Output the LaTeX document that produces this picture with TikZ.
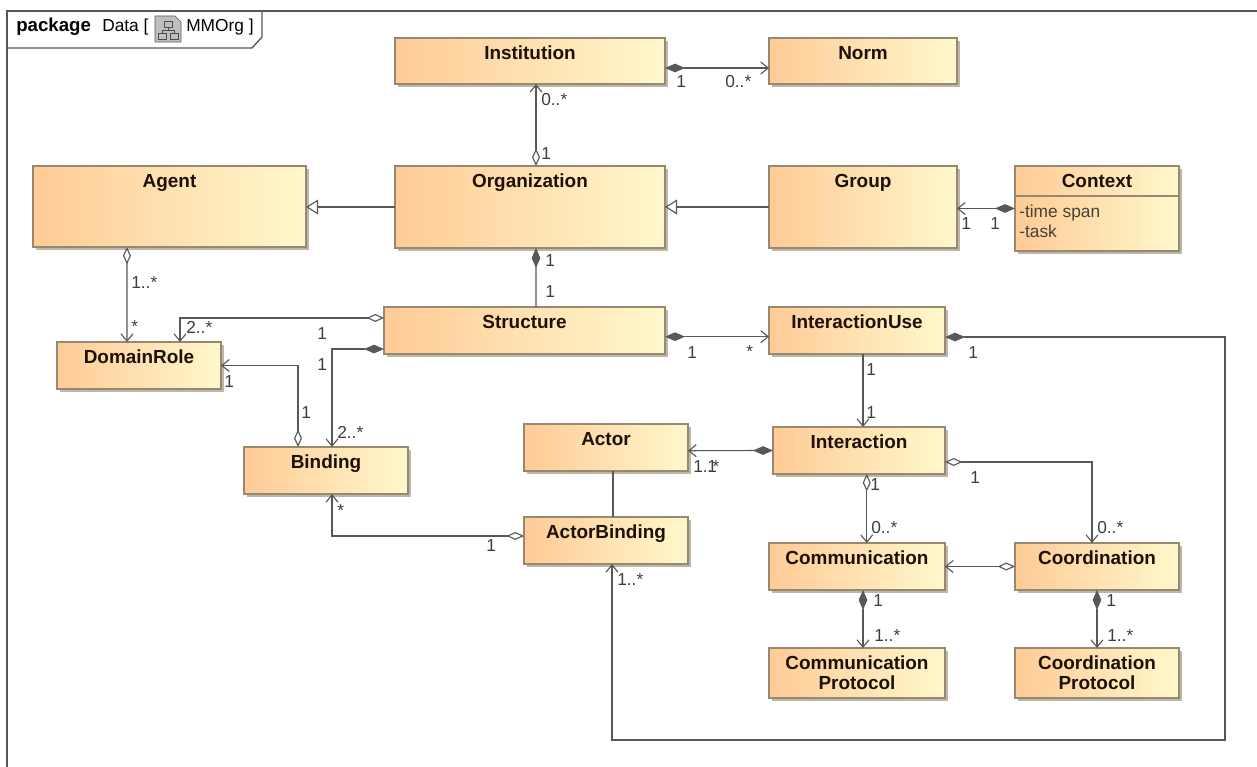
\documentclass[tikz,border=0pt]{standalone}
\usepackage{fontspec}
\setmainfont{Liberation Sans}
\usetikzlibrary{arrows.meta,
	shadows}
\definecolor{linegray}{HTML}{585858}
\definecolor{boxedge}{HTML}{978872}
\definecolor{boxleft}{HTML}{FFCB96}
\definecolor{boxright}{HTML}{FFF8CC}
\definecolor{boxshadow}{HTML}{BDB7A8}
\definecolor{inkdark}{HTML}{1C1008}

\begin{document}
\begin{tikzpicture}[x=0.75pt,y=-0.75pt]
        \useasboundingbox (0,0) rectangle (1257,767);
        \tikzstyle{shell}=[rectangle,draw=boxedge,line width=0.9pt,left color=boxleft,right color=boxright,
          general shadow={fill=boxshadow,shadow xshift=2.4pt,shadow yshift=-2.4pt},inner sep=0pt,outer sep=0pt,
          text=inkdark,font=\fontsize{14.2}{15}\selectfont\bfseries]
        \tikzstyle{cls}=[shell,text height=16pt]
        \tikzstyle{proto}=[shell,align=center]
        \tikzstyle{mult}=[anchor=base west,inner sep=0pt,text=linegray!70!black,font=\fontsize{13}{15}\selectfont]
        \tikzstyle{line}=[draw=linegray,line width=0.85pt]
        \tikzset{
          assoc/.style={line,-{Straight Barb[length=5.5pt,width=9pt]}},
          shared/.style={line,{Diamond[open,length=13pt,width=6pt]}-{Straight Barb[length=5.5pt,width=9pt]}},
          owned/.style={line,{Diamond[length=15pt,width=6.5pt]}-{Straight Barb[length=5.5pt,width=9pt]}},
          inherit/.style={line,-{Triangle[open,length=9pt,width=11pt]}}}
        % frame and its tab
        \coordinate (frame_ne) at (1257,11);
        \coordinate (frame_nw) at (7,11);
        \coordinate (frame_sw) at (7,767);
        \draw[line,line width=1pt] (frame_ne) -- (frame_nw) -- (frame_sw);
        \draw[line,line width=1pt] (7,48) -- (252,48) -- (262,37) -- (262,11);
        \node[anchor=base west,inner sep=0pt,font=\fontsize{14}{15}\selectfont\bfseries] (tab_kind) at (16,32) {package};
        \node[anchor=base west,inner sep=0pt,font=\fontsize{13}{15}\selectfont] (tab_name) at (102,32) {Data [};
        \node[anchor=base west,inner sep=0pt,font=\fontsize{13}{15}\selectfont] (tab_diagram) at (186,32) {MMOrg ]};
        \draw[linegray,fill=black!25] (155,16) -- (175,16) -- (181,22) -- (181,42) -- (155,42) -- cycle;
        \draw[black!70,line width=0.6pt] (164,21) rectangle (172,27) (158,33) rectangle (166,39) (170,33) rectangle (178,39)
          (168,27) -- (168,30) (162,33) -- (162,30) -- (174,30) -- (174,33);
        % classes
        \node[cls,minimum width=202.5pt,text depth=18.5pt] (institution) at (530,61) {Institution};
        \node[cls,minimum width=141pt,text depth=18.5pt] (norm) at (863,61) {Norm};
        \node[cls,minimum width=204.75pt,text depth=44.75pt] (agent) at (169.5,206.5) {Agent};
        \node[cls,minimum width=202.5pt,text depth=45.5pt] (organization) at (530,207) {Organization};
        \node[cls,minimum width=141pt,text depth=45.5pt] (group) at (863,207) {Group};
        \node[cls,minimum width=123pt,text depth=47.75pt] (context) at (1097,208.5) {Context};
        \node[cls,minimum width=210.75pt,text depth=19.25pt] (structure) at (524.5,330.5) {Structure};
        \node[cls,minimum width=132pt,text depth=19.25pt] (interactionuse) at (857,330.5) {InteractionUse};
        \node[cls,minimum width=123pt,text depth=19.25pt] (domainrole) at (139,365.5) {DomainRole};
        \node[cls,minimum width=123pt,text depth=19.25pt] (binding) at (326,470.5) {Binding};
        \node[cls,minimum width=123pt,text depth=19.25pt] (actor) at (606,447.5) {Actor};
        \node[cls,minimum width=123pt,text depth=19.25pt] (actorbinding) at (606,540.5) {ActorBinding};
        \node[cls,minimum width=129pt,text depth=19.25pt] (interaction) at (859,450.5) {Interaction};
        \node[cls,minimum width=132pt,text depth=19.25pt] (communication) at (857,566.5) {Communication};
        \node[cls,minimum width=123pt,text depth=19.25pt] (coordination) at (1097,566.5) {Coordination};
        \node[proto,minimum width=132pt,minimum height=37.5pt] (commprotocol) at (857,673) {Communication\\Protocol};
        \node[proto,minimum width=123pt,minimum height=37.5pt] (coordprotocol) at (1097,673) {Coordination\\Protocol};
        % context attributes
        \draw[draw=boxedge,line width=0.9pt] ([yshift=-22.5pt]context.north west) -- ([yshift=-22.5pt]context.north east);
        \node[anchor=north west,inner sep=0pt,align=left,text=inkdark!80,font=\fontsize{13}{15}\selectfont] (context_attr) at (1019,205) {-time span\\-task};
        % connectors
        \draw[owned] ([yshift=-5.25pt]institution.east) -- ([yshift=-5.25pt]norm.west);
        \draw[shared] ([xshift=4.5pt]organization.north) -- ([xshift=4.5pt]institution.south);
        \draw[inherit] (organization.west) -- (organization.west -| agent.east);
        \draw[inherit] (group.west) -- (organization.east);
        \draw[owned] (context.west) -- (context.west -| group.east);
        \draw[line,{Diamond[length=15pt,width=6.5pt]}-] ([xshift=4.5pt]organization.south) -- ([xshift=8.6pt]structure.north);
        \draw[shared] ([xshift=-31.9pt]agent.south) -- ([xshift=-9pt]domainrole.north);
        \draw[shared] ([yshift=9.4pt]structure.west) -| ([xshift=30.75pt]domainrole.north);
        \draw[owned] ([yshift=-13.9pt]structure.west) -| ([xshift=4.5pt]binding.north);
        \draw[shared] ([xshift=-21pt]binding.north) |- (domainrole.east);
        \draw[shared] ([yshift=3.4pt]actorbinding.west) -| ([xshift=4.5pt]binding.south);
        \draw[line] ([xshift=5.25pt]actor.south) -- ([xshift=5.25pt]actorbinding.north);
        \draw[owned] (interaction.west) -- ([yshift=-2.4pt]actor.east);
        \draw[owned] ([yshift=-4.65pt]structure.east) -- ([yshift=-4.65pt]interactionuse.west);
        \draw[assoc] ([xshift=4.5pt]interactionuse.south) -- ([xshift=3pt]interaction.north);
        \draw[shared] ([xshift=5.8pt]interaction.south) -- ([xshift=7.3pt]communication.north);
        \draw[shared] ([yshift=-8.6pt]interaction.east) -| ([xshift=-3.75pt]coordination.north);
        \draw[shared] (coordination.west) -- (communication.east);
        \draw[owned] ([xshift=4.5pt]communication.south) -- ([xshift=4.5pt]commprotocol.north);
        \draw[owned] (coordination.south) -- (coordprotocol.north);
        \coordinate (loop_se) at (1225,740);
        \draw[owned] ([yshift=-4.9pt]interactionuse.east) -| (loop_se) -| ([xshift=4.5pt]actorbinding.south);
        % multiplicities
        \node[mult] (m_inst_n) at (676,88) {1};
        \node[mult] (m_norm) at (725,88) {0..*};
        \node[mult] (m_inst_o) at (541,105) {0..*};
        \node[mult] (m_org_i) at (541,159) {1};
        \node[mult] (m_grp) at (961,229) {1};
        \node[mult] (m_ctx) at (990,229) {1};
        \node[mult] (m_org_s) at (545,266) {1};
        \node[mult] (m_str_o) at (545,297) {1};
        \node[mult] (m_ag) at (131,288) {1..*};
        \node[mult] (m_dr_a) at (131,332) {*};
        \node[mult] (m_dr_s) at (186,333) {2..*};
        \node[mult] (m_str_d) at (317,339) {1};
        \node[mult] (m_str_b) at (317,370) {1};
        \node[mult] (m_dr_b) at (224,387) {1};
        \node[mult] (m_bi_d) at (301,418) {1};
        \node[mult] (m_bi_s) at (337,438) {2..*};
        \node[mult] (m_bi_a) at (337,516) {*};
        \node[mult] (m_ab_b) at (486,551) {1};
        \node[mult] (m_str_u) at (687,358) {1};
        \node[mult] (m_use_s) at (746,357) {*};
        \node[mult] (m_use_a) at (968,358) {1};
        \node[mult] (m_use_i) at (866,375) {1};
        \node[mult] (m_int_u) at (866,418) {1};
        \node[mult] (m_act_i) at (693,472) {1..*};
        \node[mult] (m_int_a) at (707,472) {1};
        \node[mult] (m_int_c) at (870,490) {1};
        \node[mult] (m_int_k) at (970,483) {1};
        \node[mult] (m_com_i) at (871,533) {0..*};
        \node[mult] (m_coo_i) at (1097,533) {0..*};
        \node[mult] (m_ab_u) at (617,585) {1..*};
        \node[mult] (m_com_p) at (873,606) {1};
        \node[mult] (m_cp_c) at (874,641) {1..*};
        \node[mult] (m_coo_p) at (1106,606) {1};
        \node[mult] (m_cp_o) at (1107,641) {1..*};
      \end{tikzpicture}
\end{document}
